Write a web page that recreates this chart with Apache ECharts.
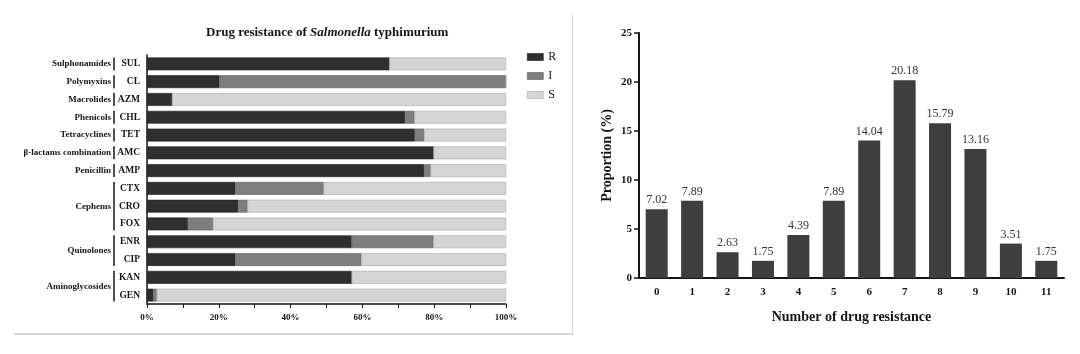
<!DOCTYPE html>
<html>
<head>
<meta charset="utf-8">
<script src="https://cdn.jsdelivr.net/npm/echarts@6/dist/echarts.min.js"></script>
<style>
html, body { margin: 0; background: #fff; }
#chart { width: 1080px; height: 354px; }
#frame { position: absolute; left: 14px; top: 14px; width: 558px; height: 319px;
  border-right: 1px solid #d2d2d2; border-bottom: 2px solid #d8d8d8; pointer-events: none; }
</style>
</head>
<body>
<div id="chart"></div>
<div id="frame"></div>
<script>
// 左图：各药物耐药率 (%)
const drugs = ['SUL', 'CL', 'AZM', 'CHL', 'TET', 'AMC', 'AMP', 'CTX', 'CRO', 'FOX', 'ENR', 'CIP', 'KAN', 'GEN'];
const resR = [67.5, 20.2, 7.0, 71.9, 74.6, 79.8, 77.2, 24.6, 25.4, 11.4, 57.0, 24.6, 57.0, 1.8];
const resI = [0, 79.8, 0, 2.6, 2.6, 0, 1.8, 24.6, 2.6, 7.0, 22.8, 35.1, 0, 0.9];
const resS = [32.5, 0, 93.0, 25.5, 22.8, 20.2, 21.0, 50.8, 72.0, 81.6, 20.2, 40.3, 43.0, 97.3];
const drugClasses = [
  { name: 'Sulphonamides', items: ['SUL'] },
  { name: 'Polymyxins', items: ['CL'] },
  { name: 'Macrolides', items: ['AZM'] },
  { name: 'Phenicols', items: ['CHL'] },
  { name: 'Tetracyclines', items: ['TET'] },
  { name: 'β-lactams combination', items: ['AMC'] },
  { name: 'Penicillin', items: ['AMP'] },
  { name: 'Cephems', items: ['CTX', 'CRO', 'FOX'] },
  { name: 'Quinolones', items: ['ENR', 'CIP'] },
  { name: 'Aminoglycosides', items: ['KAN', 'GEN'] }
];

// 右图：耐药数量分布
const resistNum = ['0', '1', '2', '3', '4', '5', '6', '7', '8', '9', '10', '11'];
const proportion = [7.02, 7.89, 2.63, 1.75, 4.39, 7.89, 14.04, 20.18, 15.79, 13.16, 3.51, 1.75];

const serif = "'Liberation Serif', 'Times New Roman', serif";
const ink = '#151515';

const chart = echarts.init(document.getElementById('chart'));

const barStyle = (color, border) => ({ color: color, borderColor: border, borderWidth: 0.6 });

chart.setOption({
  animation: false,
  backgroundColor: '#fff',
  title: {
    left: 201, top: 21,
    text: '{b|Drug resistance of }{i|Salmonella}{b| typhimurium}',
    textStyle: {
      rich: {
        b: { fontFamily: serif, fontWeight: 'bold', fontSize: 13, color: ink },
        i: { fontFamily: serif, fontWeight: 'bold', fontStyle: 'italic', fontSize: 13, color: ink }
      }
    }
  },
  legend: {
    orient: 'vertical', left: 522, top: 46, icon: 'rect',
    itemWidth: 16, itemHeight: 7, itemGap: 7,
    textStyle: { fontFamily: serif, fontSize: 12, color: ink },
    data: [
      { name: 'R', itemStyle: { borderColor: '#1f1f1f', borderWidth: 0.6 } },
      { name: 'I', itemStyle: { borderColor: '#5e5e5e', borderWidth: 0.6 } },
      { name: 'S', itemStyle: { borderColor: '#a8a8a8', borderWidth: 0.6 } }
    ]
  },
  grid: [
    { left: 147, top: 55, width: 359, height: 249 },
    { left: 639, top: 33, width: 425, height: 245 }
  ],
  xAxis: [
    {
      gridIndex: 0, type: 'value', min: 0, max: 100, interval: 10,
      axisLine: { show: true, lineStyle: { color: ink, width: 1.5 } },
      axisTick: { show: true, length: 4, lineStyle: { color: ink } },
      splitLine: { show: false },
      axisLabel: {
        margin: 9, fontFamily: serif, fontWeight: 'bold', fontSize: 9, color: ink,
        formatter: v => (v % 20 === 0 ? v + '%' : '')
      }
    },
    {
      gridIndex: 1, type: 'category', data: resistNum,
      name: 'Number of drug resistance', nameLocation: 'middle', nameGap: 32,
      nameTextStyle: { fontFamily: serif, fontWeight: 'bold', fontSize: 14, color: ink },
      axisLine: { lineStyle: { color: ink, width: 2 } },
      axisTick: { alignWithLabel: true, length: 5, lineStyle: { color: ink, width: 1.5 } },
      axisLabel: { margin: 9, fontFamily: serif, fontWeight: 'bold', fontSize: 11, color: ink }
    }
  ],
  yAxis: [
    {
      gridIndex: 0, type: 'category', data: drugs, inverse: true,
      axisLine: { lineStyle: { color: ink, width: 1.5 } },
      axisTick: { alignWithLabel: true, length: 5, lineStyle: { color: ink } },
      axisLabel: { margin: 7, fontFamily: serif, fontWeight: 'bold', fontSize: 9.5, color: ink }
    },
    {
      gridIndex: 1, type: 'value', min: 0, max: 25, interval: 5,
      name: 'Proportion (%)', nameLocation: 'middle', nameGap: 25, nameRotate: 90,
      nameTextStyle: { fontFamily: serif, fontWeight: 'bold', fontSize: 14, color: ink },
      axisLine: { show: true, lineStyle: { color: ink, width: 2 } },
      axisTick: { show: true, length: 5, lineStyle: { color: ink, width: 1.5 } },
      splitLine: { show: false },
      axisLabel: { margin: 7, fontFamily: serif, fontWeight: 'bold', fontSize: 11, color: ink }
    }
  ],
  series: [
    { name: 'R', type: 'bar', stack: 'res', xAxisIndex: 0, yAxisIndex: 0, data: resR,
      barCategoryGap: '28%', itemStyle: barStyle('#2f2f2f', '#1f1f1f') },
    { name: 'I', type: 'bar', stack: 'res', xAxisIndex: 0, yAxisIndex: 0, data: resI,
      barCategoryGap: '28%', itemStyle: barStyle('#7e7e7e', '#5e5e5e') },
    { name: 'S', type: 'bar', stack: 'res', xAxisIndex: 0, yAxisIndex: 0, data: resS,
      barCategoryGap: '28%', itemStyle: barStyle('#d5d5d5', '#a8a8a8') },
    {
      name: 'Proportion', type: 'bar', xAxisIndex: 1, yAxisIndex: 1, data: proportion,
      barWidth: 22, itemStyle: { color: '#3e3e3e' },
      label: { show: true, position: 'top', distance: 3, fontFamily: serif, fontSize: 12, color: '#333',
        formatter: p => p.value.toFixed(2) }
    }
  ]
});

// 药物类别标签与竖线
const halfBar = 6.5;
const lineX = 114;
const groupGraphics = [];
drugClasses.forEach(g => {
  const y0 = chart.convertToPixel({ yAxisIndex: 0 }, g.items[0]);
  const y1 = chart.convertToPixel({ yAxisIndex: 0 }, g.items[g.items.length - 1]);
  groupGraphics.push({
    type: 'line',
    shape: { x1: lineX, y1: y0 - halfBar, x2: lineX, y2: y1 + halfBar },
    style: { stroke: ink, lineWidth: 1.5 }
  });
  groupGraphics.push({
    type: 'text', x: lineX - 3, y: (y0 + y1) / 2,
    style: { text: g.name, align: 'right', verticalAlign: 'middle',
      font: 'bold 9px ' + serif, fill: ink }
  });
});
chart.setOption({ graphic: groupGraphics });
</script>
</body>
</html>
